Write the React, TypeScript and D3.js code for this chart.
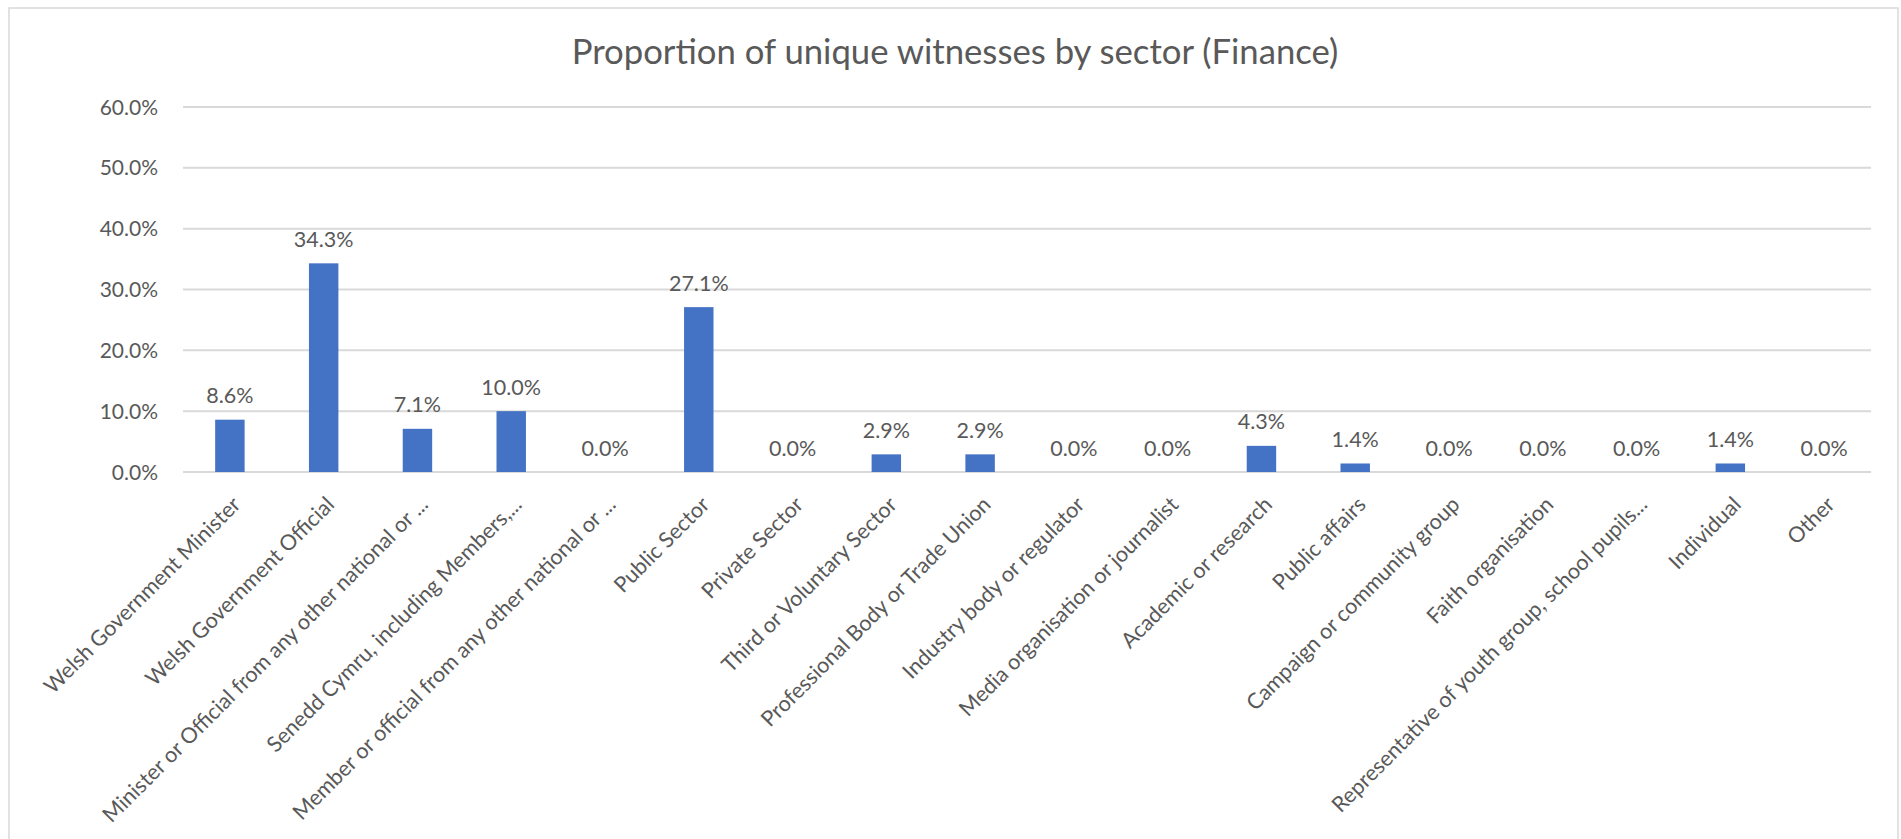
import React from "react";
import * as d3 from "d3";

const categories: string[] = [
  "Welsh Government Minister",
  "Welsh Government Official",
  "Minister or Official from any other national or ...",
  "Senedd Cymru, including Members,...",
  "Member or official from any other national or ...",
  "Public Sector",
  "Private Sector",
  "Third or Voluntary Sector",
  "Professional Body or Trade Union",
  "Industry body or regulator",
  "Media organisation or journalist",
  "Academic or research",
  "Public affairs",
  "Campaign or community group",
  "Faith organisation",
  "Representative of youth group, school pupils...",
  "Individual",
  "Other",
];

const values: number[] = [
  0.086, 0.343, 0.071, 0.1, 0.0, 0.271, 0.0, 0.029, 0.029, 0.0, 0.0, 0.043, 0.014, 0.0, 0.0, 0.0, 0.014, 0.0,
];

const yTicks: number[] = [0, 0.1, 0.2, 0.3, 0.4, 0.5, 0.6];

const title = "Proportion of unique witnesses by sector (Finance)";

const W = 1901;
const H = 839;
const FONT = "Lato, 'Open Sans', sans-serif";
const TEXT = "#595959";
const GRID = "#d9d9d9";
const BAR = "#4472C4";

export default function App() {
  const x = d3
    .scaleBand<string>()
    .domain(categories)
    .range([183, 1871])
    .paddingInner(0.686)
    .paddingOuter(0.343);
  const y = d3.scaleLinear().domain([0, 0.6]).range([472, 107]);
  const fmt = d3.format(".1%");
  const y0 = y(0);

  return (
    <svg
      width={W}
      height={H}
      style={{ position: "absolute", left: 0, top: 0, background: "#fff" }}
      fontFamily={FONT}
    >
      <rect x={0} y={0} width={W} height={H} fill="#fff" />
      <rect x={9} y={8} width={1889} height={900} fill="#fff" stroke={GRID} strokeWidth={1.5} />
      <text x={955} y={64} textAnchor="middle" fontSize={34.7} fill={TEXT}>
        {title}
      </text>
      {yTicks.map((t) => (
        <g key={t}>
          <line x1={183} x2={1871} y1={y(t)} y2={y(t)} stroke={GRID} strokeWidth={2} />
          <text x={158} y={y(t)} dy="0.36em" textAnchor="end" fontSize={21} fill={TEXT}>
            {fmt(t)}
          </text>
        </g>
      ))}
      {categories.map((c, i) => {
        const bx = x(c)!;
        const cx = bx + x.bandwidth() / 2;
        const v = values[i];
        return (
          <g key={c}>
            {v > 0 && (
              <rect x={bx} y={y(v)} width={x.bandwidth()} height={y0 - y(v)} fill={BAR} />
            )}
            <text x={cx} y={y(v) - 16.5} textAnchor="middle" fontSize={21.5} fill={TEXT}>
              {fmt(v)}
            </text>
            <text
              transform={`translate(${cx + 12},${y0 + 34}) rotate(-45)`}
              textAnchor="end"
              fontSize={21.6}
              fill={TEXT}
            >
              {c}
            </text>
          </g>
        );
      })}
    </svg>
  );
}
